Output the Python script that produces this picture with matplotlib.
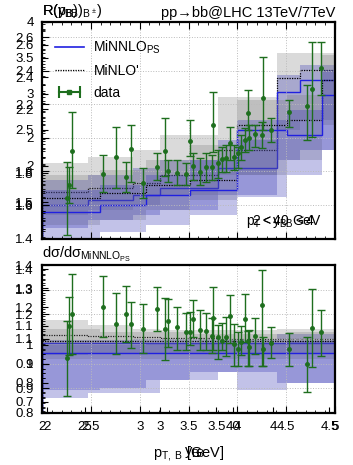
import numpy as np
import matplotlib.pyplot as plt
from matplotlib.lines import Line2D
from matplotlib.legend_handler import HandlerLine2D, HandlerTuple
from matplotlib.ticker import AutoMinorLocator

plt.rcParams['font.family'] = ['Liberation Sans', 'DejaVu Sans']
plt.rcParams['mathtext.fontset'] = 'custom'
plt.rcParams['mathtext.rm'] = 'Liberation Sans'
plt.rcParams['mathtext.it'] = 'Liberation Sans'
plt.rcParams['mathtext.bf'] = 'Liberation Sans:bold'

# binning of the two overlaid predictions
edges1 = [2.0, 2.47, 2.93, 3.21, 3.80, 4.41, 4.64, 5.0]
edges2 = [2.0, 2.59, 3.06, 3.52, 4.0, 4.51, 4.87, 5.0]

# upper panel, set 1
nnlo1 = [1.597, 1.627, 1.657, 1.699, 1.818, 2.272, 2.343]
nnlo1_lo = [1.460, 1.507, 1.537, 1.567, 1.657, 1.866, 1.925]
nnlo1_hi = [1.746, 1.776, 1.818, 1.866, 1.985, 2.373, 2.433]
nlo1 = [1.675, 1.699, 1.728, 1.776, 1.925, 2.355, 2.403]
nlo1_lo = [1.537, 1.567, 1.597, 1.657, 1.776, 2.045, 2.104]
nlo1_hi = [1.848, 1.884, 1.925, 2.015, 2.242, 2.504, 2.504]

# upper panel, set 2
nnlo2 = [1.555, 1.597, 1.657, 1.687, 2.045, 2.015, 2.254]
nnlo2_lo = [1.400, 1.436, 1.478, 1.537, 1.645, 1.776, 1.925]
nnlo2_hi = [1.687, 1.716, 1.776, 1.866, 2.104, 2.164, 2.403]
nlo2 = [1.639, 1.669, 1.716, 1.746, 2.075, 2.104, 2.343]
nlo2_lo = [1.478, 1.507, 1.567, 1.627, 1.776, 1.866, 2.075]
nlo2_hi = [1.776, 1.806, 1.866, 1.955, 2.224, 2.254, 2.493]

# ratio panel
rnnlo1 = [1.083] * 7
rnnlo1_lo = [0.861, 0.881, 0.881, 0.934, 0.966, 0.921, 0.921]
rnnlo1_hi = [1.095, 1.095, 1.100, 1.100, 1.100, 1.120, 1.120]
rnlo1 = [1.116, 1.112, 1.108, 1.104, 1.100, 1.100, 1.100]
rnlo1_lo = [1.035, 1.040, 1.040, 1.040, 1.040, 1.040, 1.040]
rnlo1_hi = [1.177, 1.156, 1.140, 1.136, 1.136, 1.140, 1.140]

rnnlo2 = [1.043] * 7
rnnlo2_lo = [0.893, 0.900, 0.934, 0.966, 0.893, 0.921, 0.921]
rnnlo2_hi = [1.075, 1.075, 1.080, 1.080, 1.080, 1.090, 1.090]
rnlo2 = [1.090] * 7
rnlo2_lo = [1.020] * 7
rnlo2_hi = [1.140, 1.130, 1.130, 1.120, 1.120, 1.130, 1.130]

# data
data_x = [2.256, 2.276, 2.307, 2.625, 2.758, 2.860, 2.911, 3.034, 3.177, 3.259,
          3.290, 3.382, 3.474, 3.515, 3.546, 3.618, 3.679, 3.741, 3.751, 3.802,
          3.843, 3.884, 3.925, 3.966, 4.007, 4.037, 4.078, 4.109, 4.119, 4.181,
          4.252, 4.263, 4.345, 4.529, 4.713, 4.764, 4.857]
data_y = [1.639, 1.716, 1.919, 1.782, 1.884, 1.764, 1.931, 1.728, 1.824, 1.919,
          1.800, 1.788, 1.782, 1.979, 1.830, 1.794, 1.824, 1.824, 2.075, 1.848,
          1.872, 1.878, 1.967, 1.884, 1.907, 1.943, 1.985, 2.146, 1.997, 2.021,
          2.015, 2.236, 2.045, 2.152, 2.188, 2.290, 2.415]
data_lo = [1.418, 1.609, 1.699, 1.675, 1.699, 1.675, 1.734, 1.639, 1.746, 1.770,
           1.734, 1.716, 1.716, 1.890, 1.746, 1.716, 1.734, 1.746, 1.913, 1.758,
           1.794, 1.794, 1.866, 1.806, 1.818, 1.866, 1.913, 2.045, 1.925, 1.943,
           1.937, 2.045, 1.973, 2.063, 1.985, 2.003, 2.254]
data_hi = [1.854, 1.824, 2.152, 1.896, 2.063, 1.854, 2.075, 1.818, 1.907, 2.116,
           1.866, 1.866, 1.848, 2.104, 1.907, 1.878, 1.907, 1.896, 2.272, 1.925,
           1.943, 1.955, 2.063, 1.955, 1.943, 2.015, 2.057, 2.284, 2.075, 2.075,
           2.093, 2.481, 2.116, 2.224, 2.313, 2.570, 2.570]
ratio_y = [1.023, 1.152, 1.201, 1.229, 1.160, 1.201, 1.160, 1.140, 1.221, 1.140,
           1.172, 1.148, 1.128, 1.128, 1.181, 1.136, 1.132, 1.112, 1.185, 1.108,
           1.091, 1.108, 1.193, 1.079, 1.059, 1.087, 1.181, 1.091, 1.067, 1.112,
           1.237, 1.059, 1.083, 1.059, 0.998, 1.144, 1.128]
ratio_lo = [0.869, 1.035, 1.039, 1.108, 1.039, 1.087, 1.063, 1.043, 1.132, 1.015,
            1.067, 1.055, 1.055, 1.075, 1.108, 1.055, 1.055, 1.043, 1.055, 1.019,
            1.055, 1.031, 1.083, 0.990, 0.990, 1.035, 1.087, 0.990, 0.990, 1.039,
            0.990, 0.990, 1.023, 0.990, 0.885, 0.986, 1.031]
ratio_hi = [1.172, 1.270, 1.363, 1.355, 1.286, 1.314, 1.249, 1.241, 1.310, 1.266,
            1.262, 1.229, 1.205, 1.209, 1.257, 1.217, 1.205, 1.185, 1.310, 1.156,
            1.164, 1.189, 1.278, 1.160, 1.128, 1.152, 1.282, 1.132, 1.136, 1.185,
            1.379, 1.108, 1.148, 1.124, 1.108, 1.302, 1.217]

# tick label sets of the overlaid frames
yticks_a = [1.4, 1.6, 1.8, 2.0, 2.2, 2.4, 2.6]
ylabels_a = ['1.4', '1.6', '1.8', '2', '2.2', '2.4', '2.6']
yticks_a2 = [1.6, 1.8, 2.2, 2.4, 2.6]
ylabels_a2 = ['1.6', '1.8', '2.2', '2.4', '2.6']
yticks_b = [1.5, 2.0, 2.5, 3.0, 3.5, 4.0]
ylabels_b = ['1.5', '2', '2.5', '3', '3.5', '4']
yticks_c = [0.8, 0.9, 1.0, 1.1, 1.2, 1.3, 1.4]
ylabels_c = ['0.8', '0.9', '1', '1.1', '1.2', '1.3', '1.4']
yticks_d = [0.7, 0.8, 0.9, 1.0, 1.1, 1.2, 1.3, 1.4]
ylabels_d = ['0.7', '0.8', '0.9', '1', '1.1', '1.2', '1.3', '1.4']
xticks_a = [2.0, 2.5, 3.0, 3.5, 4.0, 4.5, 5.0]
xlabels_a = ['2', '2.5', '3', '3.5', '4', '4.5', '5']
xticks_b = [2.0, 3.0, 3.5, 4.0, 4.5]
xlabels_b = ['2', '3', '3.5', '4', '4.5']
xticks_c = [25, 40]
xlabels_c = ['25', '40']

BLUE = '#2020e0'
BAND = '#3535b5'
GREEN = '#1e6e1e'
FS = 9.5


def draw_set(ax, edges, nnlo, nnlo_lo, nnlo_hi, nlo, nlo_lo, nlo_hi):
    '''Bands and central lines of one prediction set'''
    ax.stairs(nlo_hi, edges, baseline=nlo_lo, fill=True, color='#7a7a7a',
              alpha=0.28, lw=0)
    ax.stairs(nnlo_hi, edges, baseline=nnlo_lo, fill=True, color=BAND,
              alpha=0.3, lw=0)
    ax.stairs(nlo, edges, color='k', lw=0.9, ls=(0, (1, 1)))
    ax.stairs(nnlo, edges, color=BLUE, lw=1.0)


def style(ax):
    ax.tick_params(which='both', direction='in', top=True, right=True,
                   labelsize=FS, pad=6)
    ax.tick_params(which='major', length=5, width=0.8)
    ax.tick_params(which='minor', length=2.5, width=0.6)
    ax.xaxis.set_minor_locator(AutoMinorLocator(5))
    ax.yaxis.set_minor_locator(AutoMinorLocator(5))
    ax.grid(True, which='major', color='#bbbbbb', ls=':', lw=0.7)
    for sp in ax.spines.values():
        sp.set_linewidth(1.6)


def extra_y(ax, lim, ticks, labels):
    '''Second frame drawn on top, only its left tick labels'''
    tw = ax.twinx()
    tw.yaxis.tick_left()
    tw.set_ylim(*lim)
    tw.set_yticks(ticks)
    tw.set_yticklabels(labels)
    tw.tick_params(which='both', direction='in', labelsize=FS, pad=6, length=4)
    tw.yaxis.set_minor_locator(AutoMinorLocator(4))
    tw.tick_params(which='minor', length=2)
    for sp in tw.spines.values():
        sp.set_visible(False)
    return tw


def extra_x(ax, lim, ticks, labels):
    '''Second frame drawn on top, only its bottom tick labels'''
    tw = ax.twiny()
    tw.xaxis.tick_bottom()
    tw.set_xlim(*lim)
    tw.set_xticks(ticks)
    tw.set_xticklabels(labels)
    tw.tick_params(direction='in', labelsize=FS, pad=6, length=4)
    for sp in tw.spines.values():
        sp.set_visible(False)
    return tw


fig = plt.figure(figsize=(3.53, 4.65), dpi=100)
ax1 = fig.add_axes([0.119, 0.486, 0.830, 0.4667])
ax2 = fig.add_axes([0.119, 0.112, 0.830, 0.318])

# upper panel
draw_set(ax1, edges1, nnlo1, nnlo1_lo, nnlo1_hi, nlo1, nlo1_lo, nlo1_hi)
draw_set(ax1, edges2, nnlo2, nnlo2_lo, nnlo2_hi, nlo2, nlo2_lo, nlo2_hi)
yerr = [np.subtract(data_y, data_lo), np.subtract(data_hi, data_y)]
ax1.errorbar(data_x, data_y, yerr=yerr, fmt='o', color=GREEN, ms=2.5,
             elinewidth=1.0, capsize=3, capthick=1.0, zorder=5)
ax1.set_xlim(2, 5)
ax1.set_ylim(1.395, 2.69)
ax1.set_yticks(yticks_a)
ax1.set_yticklabels(ylabels_a)
ax1.set_xticks(xticks_a)
ax1.tick_params(labelbottom=False)
style(ax1)
extra_y(ax1, (1.39, 2.743), yticks_a2, ylabels_a2)
extra_y(ax1, (0.986, 4.0), yticks_b, ylabels_b)

cap_line = Line2D([], [], color=GREEN, lw=1.5, marker='|', ms=8, mew=1.5)
square = Line2D([], [], color=GREEN, marker='s', ms=3.5, ls='none')
handles = [Line2D([], [], color=BLUE, lw=1.2),
           Line2D([], [], color='k', lw=0.9, ls=(0, (1, 1))),
           (cap_line, square)]
ax1.legend(handles, [r'MiNNLO$_{\mathrm{PS}}$', "MiNLO'", 'data'],
           loc='upper left', bbox_to_anchor=(0.0, 0.98), frameon=False,
           fontsize=10, handlelength=2.1, labelspacing=0.55, handletextpad=0.7,
           handler_map={cap_line: HandlerLine2D(numpoints=2),
                        tuple: HandlerTuple(ndivide=1)})
ax1.text(0.955, 0.08, r'$p_{T} < 40$ GeV', transform=ax1.transAxes,
         ha='right', va='center', fontsize=10)
ax1.text(0.93, 0.08, r'$2 < y_{BB} < 4$', transform=ax1.transAxes,
         ha='right', va='center', fontsize=10)
ax1.text(0.0, 1.01, r'R($p_{B}$)', transform=ax1.transAxes, ha='left',
         va='bottom', fontsize=10.5)
ax1.text(0.0, 1.01, r'R($y_{B\!B}$)$_{B^\pm}$)', transform=ax1.transAxes,
         ha='left', va='bottom', fontsize=10.5)
ax1.text(1.0, 1.01, 'pp\u2192bb@LHC 13TeV/7TeV',
         transform=ax1.transAxes, ha='right', va='bottom', fontsize=10.5)

# ratio panel
draw_set(ax2, edges1, rnnlo1, rnnlo1_lo, rnnlo1_hi, rnlo1, rnlo1_lo, rnlo1_hi)
draw_set(ax2, edges2, rnnlo2, rnnlo2_lo, rnnlo2_hi, rnlo2, rnlo2_lo, rnlo2_hi)
rerr = [np.subtract(ratio_y, ratio_lo), np.subtract(ratio_hi, ratio_y)]
ax2.errorbar(data_x, ratio_y, yerr=rerr, fmt='o', color=GREEN, ms=2.5,
             elinewidth=1.0, capsize=3, capthick=1.0, zorder=5)
ax2.set_xlim(2, 5)
ax2.set_ylim(0.8, 1.4)
ax2.set_yticks(yticks_c)
ax2.set_yticklabels(ylabels_c)
ax2.set_xticks(xticks_a)
ax2.set_xticklabels(xlabels_a)
style(ax2)
extra_y(ax2, (0.642, 1.421), yticks_d, ylabels_d)
extra_x(ax2, (1.956, 4.549), xticks_b, xlabels_b)
extra_x(ax2, (20.64, 50.34), xticks_c, xlabels_c)

ax2.text(0.0, 1.01, r'd$\sigma$/d$\sigma_{\mathrm{MiNNLO_{PS}}}$',
         transform=ax2.transAxes, ha='left', va='bottom', fontsize=10.5)
ax2.set_xlabel(r'$p_{T,\ B}$ [GeV]', fontsize=10.5, labelpad=8)
ax2.text(0.52, -0.265, r'$y_{B\!B}$', transform=ax2.transAxes,
         ha='center', va='center', fontsize=10.5)

fig.savefig('out.png', dpi=100)
